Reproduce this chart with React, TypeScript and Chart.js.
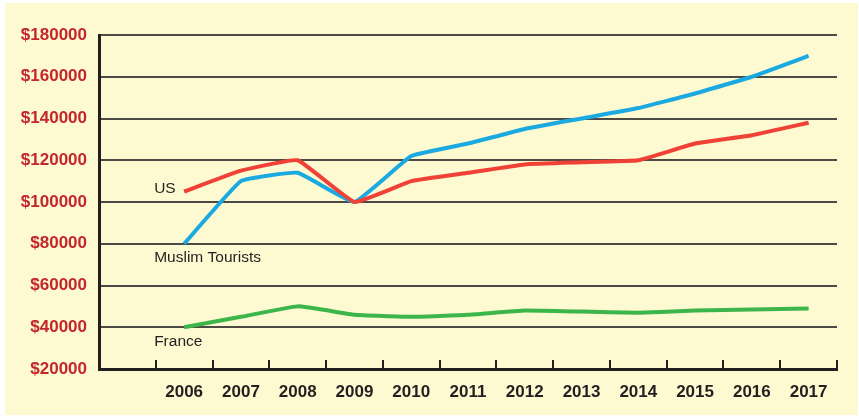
import React, { useEffect, useRef } from "react";
import { Chart, registerables } from "chart.js";

Chart.register(...registerables);

const years = ["2006", "2007", "2008", "2009", "2010", "2011", "2012", "2013", "2014", "2015", "2016", "2017"];
const muslimTourists = [80000, 110000, 114000, 100000, 122000, 128000, 135000, 140000, 145000, 152000, 160000, 170000];
const us = [105000, 115000, 120000, 100000, 110000, 114000, 118000, 119000, 120000, 128000, 132000, 138000];
const france = [40000, 45000, 50000, 46000, 45000, 46000, 48000, 47500, 47000, 48000, 48500, 49000];
const yTicks = [20000, 40000, 60000, 80000, 100000, 120000, 140000, 160000, 180000];
const seriesLabels = [
  { text: "US", value: 106500 },
  { text: "Muslim Tourists", value: 73500 },
  { text: "France", value: 33000 },
];

const W = 859;
const H = 417;
const INK = "#231f20";

const decorPlugin = {
  id: "decor",
  afterDraw(chart: any) {
    const { ctx, chartArea, scales } = chart;
    const x = scales.x;
    const y = scales.y;
    const n = chart.data.labels.length;
    const slot = (chartArea.right - chartArea.left) / n;
    ctx.save();
    ctx.strokeStyle = INK;
    ctx.lineWidth = 2;
    for (let i = 1; i <= n; i++) {
      const px = Math.round(chartArea.left + i * slot);
      ctx.beginPath();
      ctx.moveTo(px, chartArea.bottom);
      ctx.lineTo(px, chartArea.bottom - 9);
      ctx.stroke();
    }
    ctx.fillStyle = INK;
    ctx.font = "15.5px 'Liberation Sans', Arial, sans-serif";
    ctx.textAlign = "left";
    ctx.textBaseline = "middle";
    const lx = x.getPixelForValue(1) - 30;
    for (const l of seriesLabels) {
      ctx.fillText(l.text, lx, y.getPixelForValue(l.value));
    }
    ctx.restore();
  },
};

export default function App() {
  const ref = useRef<HTMLCanvasElement | null>(null);
  useEffect(() => {
    if (!ref.current) return;
    const labels = ["", ...years];
    const chart = new Chart(ref.current, {
      type: "line",
      data: {
        labels,
        datasets: [
          {
            label: "France",
            data: [null, ...france],
            borderColor: "#3cb54a",
            borderWidth: 4,
            pointRadius: 0,
            tension: 0.1,
          },
          {
            label: "US",
            data: [null, ...us],
            borderColor: "#ef4136",
            borderWidth: 4,
            pointRadius: 0,
            tension: 0.1,
          },
          {
            label: "Muslim Tourists",
            data: [null, ...muslimTourists],
            borderColor: "#1ba9e1",
            borderWidth: 4,
            pointRadius: 0,
            tension: 0.1,
          },
        ],
      },
      options: {
        responsive: false,
        animation: false,
        layout: { padding: { left: 0, top: 35, right: 22, bottom: 0 } },
        plugins: { legend: { display: false }, tooltip: { enabled: false } },
        scales: {
          x: {
            offset: true,
            grid: { display: false },
            border: { display: true, width: 3, color: INK },
            ticks: {
              padding: 5,
              color: INK,
              font: { family: "'Liberation Sans', Arial, sans-serif", size: 17, weight: "bold" },
            },
            afterFit(scale: any) {
              scale.height = 48;
            },
          },
          y: {
            min: 20000,
            max: 180000,
            afterBuildTicks(scale: any) {
              scale.ticks = yTicks.map((v) => ({ value: v }));
            },
            grid: { color: "#4d4a45", lineWidth: 2, drawTicks: false },
            border: { display: true, width: 3, color: INK },
            ticks: {
              padding: 12,
              color: "#c4262e",
              font: { family: "'Liberation Sans', Arial, sans-serif", size: 17, weight: "bold" },
              callback: (v: any) => "$" + v,
            },
            afterFit(scale: any) {
              scale.width = 99;
            },
          },
        },
      },
      plugins: [decorPlugin],
    });
    return () => chart.destroy();
  }, []);

  return (
    <div style={{ position: "fixed", left: 0, top: 0, width: W, height: H, background: "#ffffff" }}>
      <div style={{ position: "absolute", left: 5, top: 3, width: 853, height: 412, background: "#fdf9d0" }} />
      <canvas ref={ref} width={W} height={H} style={{ position: "absolute", left: 0, top: 0, width: W, height: H }} />
    </div>
  );
}
